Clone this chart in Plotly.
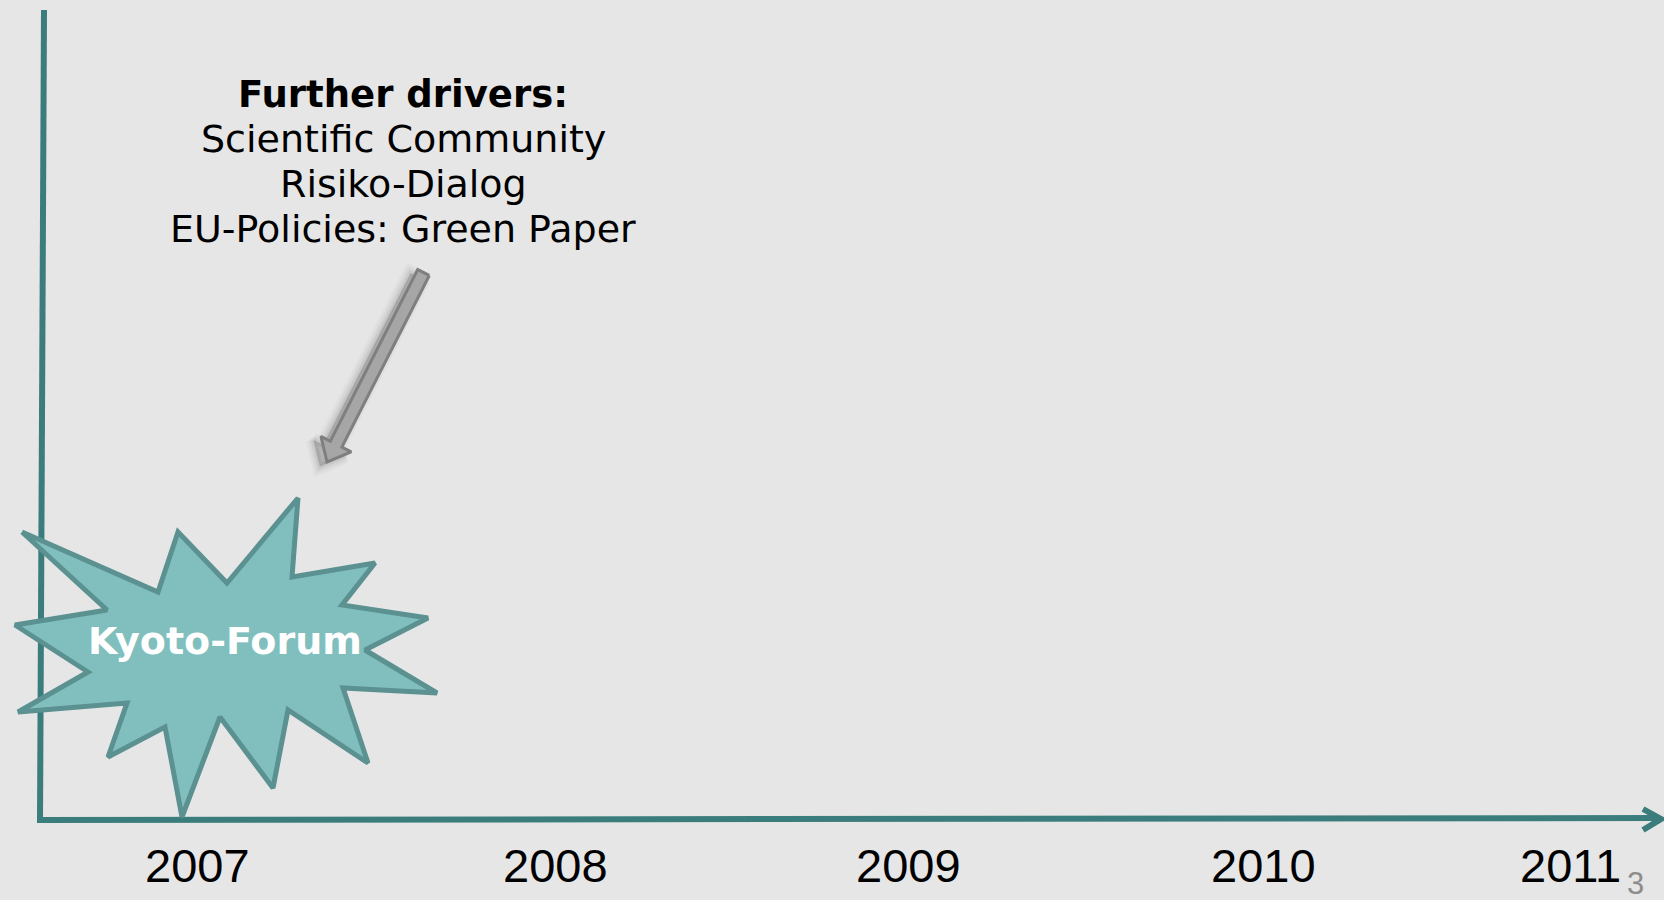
import numpy as np
import plotly.graph_objects as go

# ---------------- data ----------------
years = ["2007", "2008", "2009", "2010", "2011"]
year_x = [197, 555, 908, 1263, 1570]

drivers_title = "Further drivers:"
drivers = ["Scientific Community", "Risiko-Dialog", "EU-Policies: Green Paper"]
drivers_baseline = [107, 152, 197, 242]

event_label = "Kyoto-Forum"
burst_x = [22, 158, 178, 227, 298, 292, 375, 342, 428, 365, 437, 343, 368, 288,
           273, 220, 182, 165, 108, 127, 18, 88, 15, 107]
burst_y = [532, 592, 532, 583, 498, 577, 563, 605, 618, 650, 693, 688, 763, 710,
           788, 717, 817, 727, 757, 703, 712, 672, 625, 610]

arrow_tail = (423.5, 272.5)
arrow_tip = (327, 462)

page_number = "3"

# ---------------- styling ----------------
BG = "#e6e6e6"
TEAL = "#3b7d7c"
BURST_FILL = "#80bfbe"
BURST_LINE = "#5b9190"

fig = go.Figure()

# axes (timeline)
fig.add_trace(go.Scatter(x=[44, 40], y=[10, 822], mode="lines",
                         line=dict(color=TEAL, width=6), hoverinfo="skip"))
fig.add_trace(go.Scatter(x=[37, 1660], y=[820, 818], mode="lines",
                         line=dict(color=TEAL, width=6), hoverinfo="skip"))
fig.add_trace(go.Scatter(x=[1643, 1661, 1643], y=[809, 819, 830], mode="lines",
                         line=dict(color=TEAL, width=6), hoverinfo="skip"))

# gray block arrow
tx, ty = arrow_tail
px, py = arrow_tip
d = np.array([px - tx, py - ty])
L = np.hypot(*d)
u = d / L
n = np.array([u[1], -u[0]])
shaft_hw, head_hw, head_len = 6.5, 17, 20
t = np.array([tx, ty])
p = np.array([px, py])
neck = p - u * head_len
pts = [t + n * shaft_hw, neck + n * shaft_hw, neck + n * head_hw, p,
       neck - n * head_hw, neck - n * shaft_hw, t - n * shaft_hw, t + n * shaft_hw]
ax_ = [q[0] for q in pts]
ay_ = [q[1] for q in pts]

# soft shadow
for k, op in [(16, 0.04), (11, 0.05), (6, 0.07), (2, 0.08)]:
    fig.add_trace(go.Scatter(x=[v - 7 for v in ax_], y=[v + 4 for v in ay_],
                             mode="lines", fill="toself",
                             fillcolor=f"rgba(60,60,60,{op})",
                             line=dict(color=f"rgba(60,60,60,{op})", width=k),
                             hoverinfo="skip"))
fig.add_trace(go.Scatter(x=ax_, y=ay_, mode="lines", fill="toself",
                         fillcolor="#a6a6a6", line=dict(color="#7f7f7f", width=3),
                         hoverinfo="skip"))

# starburst
fig.add_trace(go.Scatter(x=burst_x + [burst_x[0]], y=burst_y + [burst_y[0]],
                         mode="lines", fill="toself", fillcolor=BURST_FILL,
                         line=dict(color=BURST_LINE, width=5), hoverinfo="skip"))

annotations = []
annotations.append(dict(x=225, y=641, text=f"<b>{event_label}</b>", showarrow=False,
                        font=dict(family="DejaVu Sans", size=38, color="white"),
                        xanchor="center", yanchor="middle"))

# drivers text
annotations.append(dict(x=403, y=drivers_baseline[0] - 13, text=f"<b>{drivers_title}</b>",
                        showarrow=False, font=dict(family="DejaVu Sans", size=37, color="black"),
                        xanchor="center", yanchor="middle"))
for line, b in zip(drivers, drivers_baseline[1:]):
    annotations.append(dict(x=403, y=b - 13, text=line, showarrow=False,
                            font=dict(family="DejaVu Sans", size=38, color="black"),
                            xanchor="center", yanchor="middle"))

# year labels
for yr, xx in zip(years, year_x):
    annotations.append(dict(x=xx, y=865, text=yr, showarrow=False,
                            font=dict(family="Liberation Sans", size=47, color="black"),
                            xanchor="center", yanchor="middle"))

annotations.append(dict(x=1635, y=883, text=page_number, showarrow=False,
                        font=dict(family="Liberation Sans", size=31, color="#8c8c8c"),
                        xanchor="center", yanchor="middle"))

fig.update_layout(
    width=1664, height=900,
    margin=dict(l=0, r=0, t=0, b=0),
    paper_bgcolor=BG, plot_bgcolor=BG,
    showlegend=False,
    annotations=annotations,
    xaxis=dict(range=[0, 1664], visible=False, fixedrange=True),
    yaxis=dict(range=[900, 0], visible=False, fixedrange=True),
)

fig.write_html("out.html", config={"displayModeBar": False},
               post_script="document.body.style.margin='0px';document.body.style.overflow='hidden';")
